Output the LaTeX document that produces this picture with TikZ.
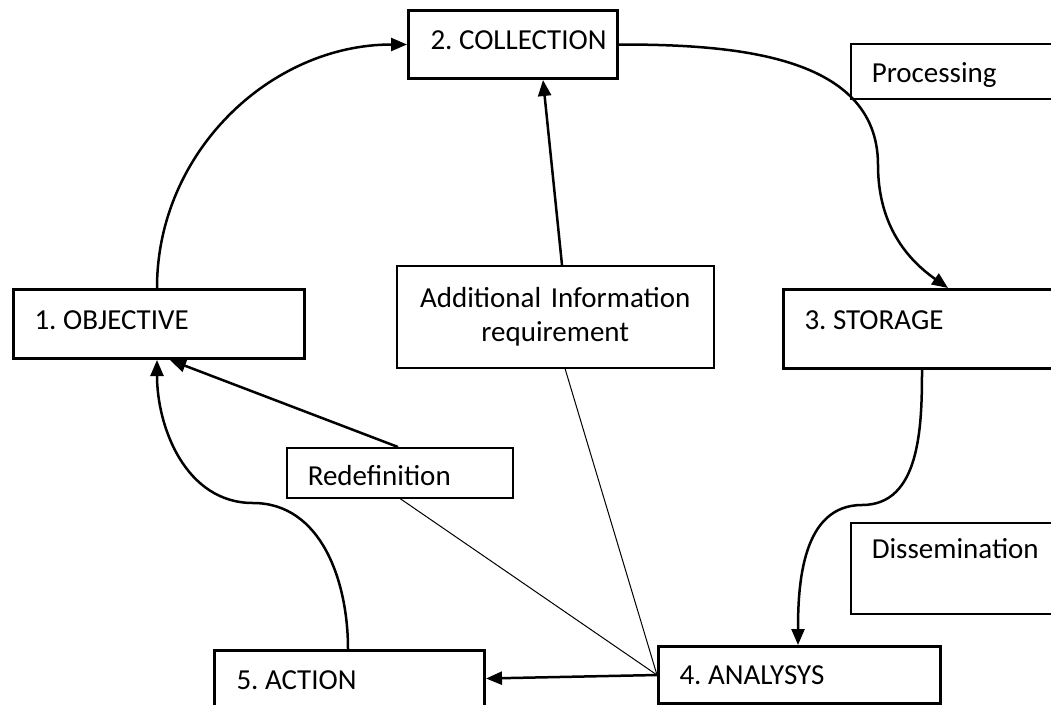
\documentclass[tikz,border=0pt]{standalone}
\usepackage{fontspec}
\setmainfont{Carlito}
\usepackage{tikz}
\usetikzlibrary{arrows.meta,calc}
\frenchspacing

\begin{document}
\begin{tikzpicture}[x=1pt,y=1pt,
	stage/.style={draw,line width=3pt,anchor=north west,inner sep=0pt,align=flush left,
		font=\fontsize{29}{34}\selectfont},
	note/.style={stage,line width=1.5pt},
	pad/.style={execute at begin node={\hspace*{#1}}},
	flow/.style={line width=2.5pt,-{Triangle[length=16pt,width=13pt]}},
	link/.style={line width=1pt}]
	\useasboundingbox (0,0) rectangle (1051,-704);
	\clip (0,0) rectangle (1051,-704);
	% steps of the cycle
	\node[stage,pad=22pt,text width=209pt,text height=39pt,text depth=29pt] (coll) at (407,-9) {2. COLLECTION};
	\node[stage,pad=21pt,text width=291pt,text height=40pt,text depth=29pt] (obj) at (12,-288) {1. OBJECTIVE};
	\node[stage,pad=21pt,text width=300pt,text height=40pt,text depth=39pt] (stor) at (782,-288) {3. STORAGE};
	\node[stage,pad=21pt,text width=282pt,text height=38pt,text depth=19pt] (ana) at (657,-645) {4. ANALYSYS};
	\node[stage,pad=22pt,text width=270pt,text height=39pt,text depth=17pt] (act) at (213,-649) {5. ACTION};
	% notes
	\node[note,pad=21pt,text width=250pt,text height=39pt,text depth=16pt] (proc) at (850,-43) {Processing};
	\node[note,pad=21pt,text width=226pt,text height=38pt,text depth=12pt] (redef) at (286,-447) {Redefinition};
	\node[note,pad=21pt,text width=250pt,text height=36pt,text depth=55pt] (diss) at (850,-522) {Dissemination};
	\node[note,inner xsep=10pt,text width=297pt,align=center,text height=42pt,text depth=60pt] (addl) at (396,-265) {Additional Information\\requirement};
	% connectors
	\coordinate (cs) at (878,-165);
	\coordinate (ds) at (862,-505);
	\coordinate (as) at (253,-503);
	\draw[flow] ([xshift=145pt]obj.north west) to[out=90,in=180] (coll.west);
	\draw[flow] (coll.east) to[out=0,in=90] (cs) to[out=-90,in=145] ([xshift=166pt]stor.north west);
	\draw[flow] ([xshift=140pt]stor.south west) to[out=-90,in=0] (ds) to[out=180,in=90] ([xshift=141pt]ana.north west);
	\draw[flow] ([xshift=166pt]addl.north west) -- ([xshift=136pt]coll.south west);
	\draw[flow] ([xshift=112pt]redef.north west) -- ([xshift=158pt]obj.south west);
	\draw[flow] ([xshift=135pt]act.north west) to[out=90,in=0] (as) to[out=180,in=-90] ([xshift=145pt]obj.south west);
	\draw[flow] (ana.west) -- (act.east);
	\draw[link] ([xshift=169pt]addl.south west) -- (ana.west);
	\draw[link] ([xshift=114pt]redef.south west) -- (ana.west);
\end{tikzpicture}
\end{document}
